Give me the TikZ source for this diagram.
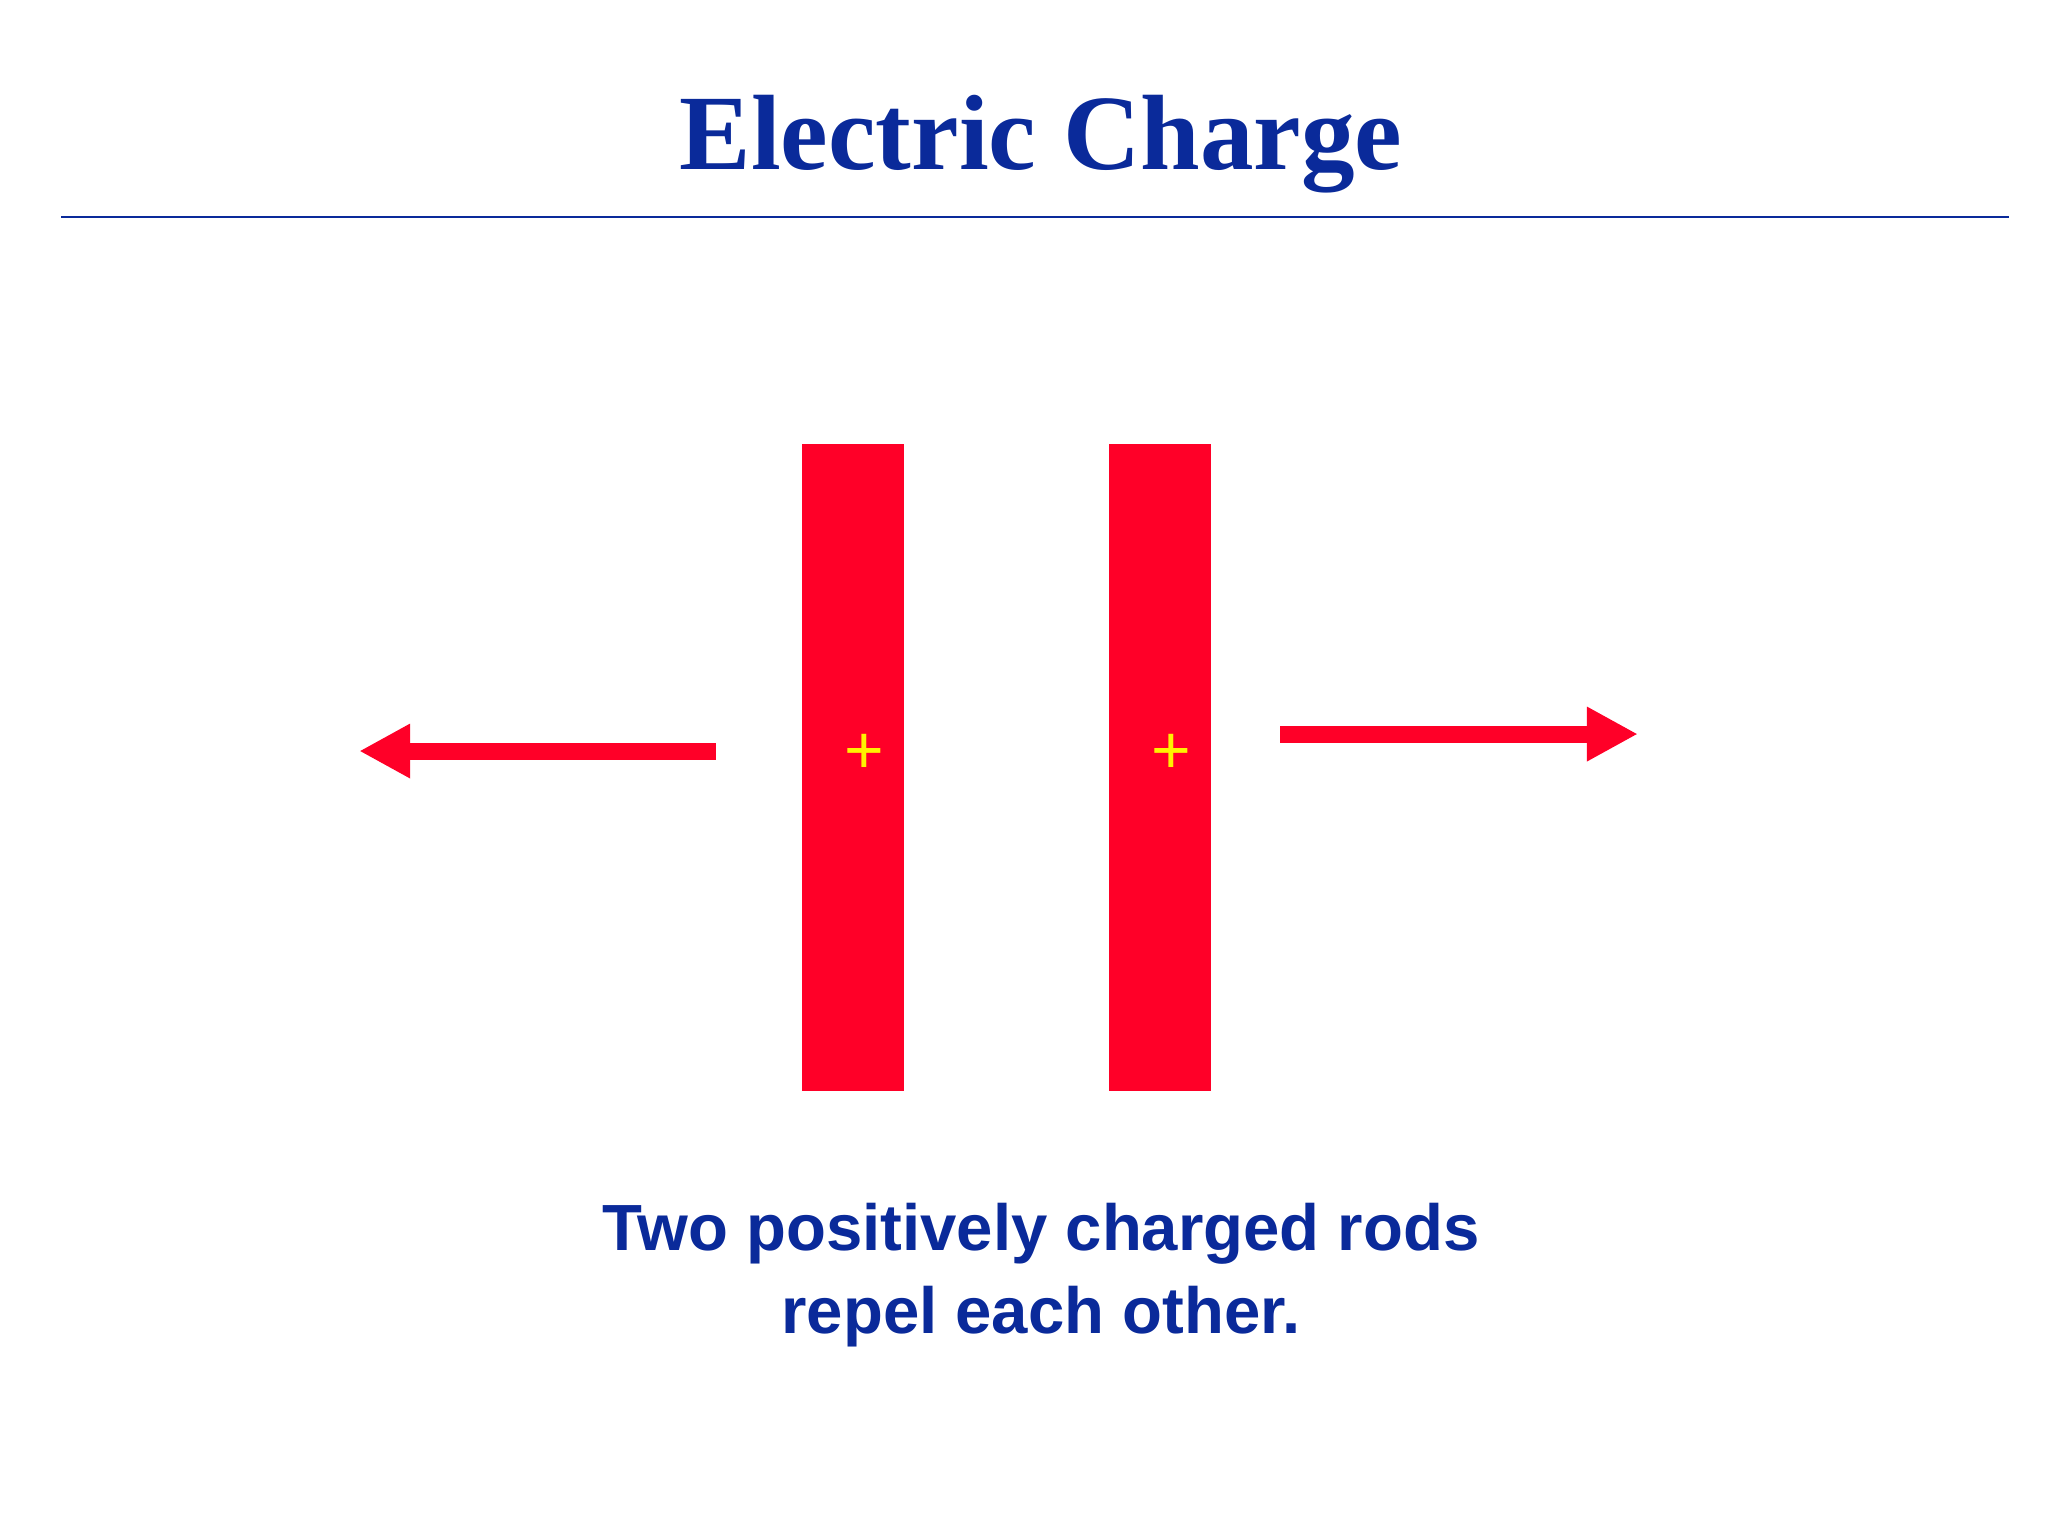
\documentclass[tikz,border=0pt]{standalone}
\usepackage{fontspec}
\setmainfont{Liberation Serif}
\setsansfont{Liberation Sans}
\usetikzlibrary{arrows.meta}
\definecolor{tblue}{HTML}{0A2A9A}
\definecolor{rodred}{HTML}{FF0028}
\definecolor{plusy}{HTML}{FFF200}
\begin{document}
\begin{tikzpicture}[x=1pt,y=-1pt,
  rod/.style={fill=rodred,draw=none,minimum width=78pt,minimum height=495pt,inner sep=0pt},
  pluslbl/.style={text=plusy,font=\sffamily\fontsize{52}{52}\selectfont,inner sep=0pt},
  force/.style={draw=rodred,line width=13pt,-{Triangle[width=39pt,length=39pt]}}]
\useasboundingbox (0,0) rectangle (1568,1176);
\node[text=tblue,font=\bfseries\fontsize{82}{82}\selectfont,anchor=base] (title) at (797,130) {Electric Charge};
\draw[tblue,line width=2pt] (47,166) coordinate (la) -- (1538,166) coordinate (lb);
\node[rod] (r1) at (653,587.5) {};
\node[rod] (r2) at (888,587.5) {};
\node[pluslbl] (p1) at (662,577) {+};
\node[pluslbl] (p2) at (897,577) {+};
\coordinate (a1s) at (548,575); \coordinate (a1e) at (275,575);
\coordinate (a2s) at (980,562); \coordinate (a2e) at (1254,562);
\draw[force] (a1s) -- (a1e);
\draw[force] (a2s) -- (a2e);
\node[text=tblue,font=\sffamily\bfseries\fontsize{50}{63}\selectfont,align=center,anchor=north] (cap) at (797,918) {Two positively charged rods\\repel each other.};
\end{tikzpicture}
\end{document}
